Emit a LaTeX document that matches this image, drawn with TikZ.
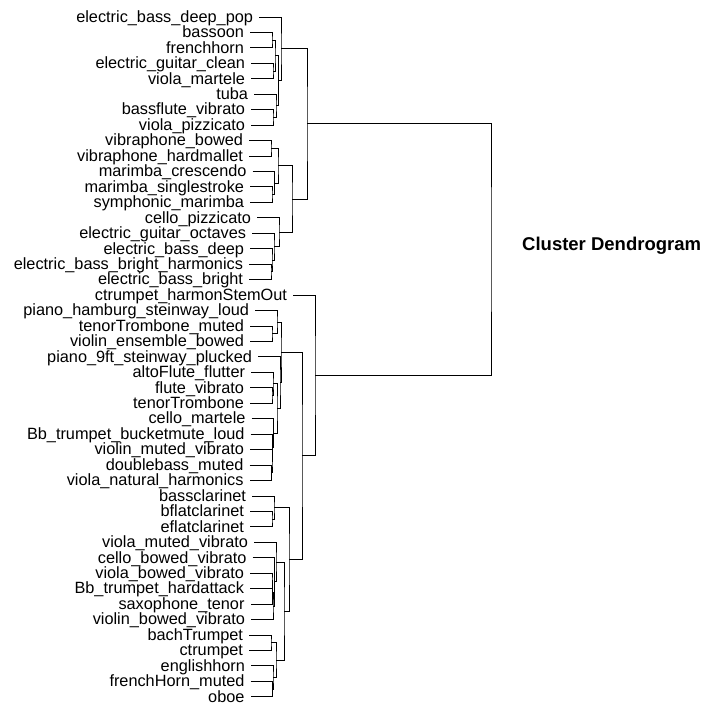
\documentclass[tikz,border=0pt]{standalone}
\usepackage{fontspec}
\setmainfont{Liberation Sans}
\begin{document}
\begin{tikzpicture}[x=1pt,y=-1pt]
	\tikzset{leaf/.style = {anchor=east,inner xsep=6pt,inner ysep=0pt,outer sep=0pt,
		text height=10.5pt,text depth=0pt,font=\fontsize{16.3}{16.3}\selectfont}}
	\tikzset{link/.style = {draw,line width=0.9pt}}
	\useasboundingbox (0,0) rectangle (701,703);
	% leaves
	\node[leaf] (l1) at (259,17) {electric\_bass\_deep\_pop};
	\node[leaf] (l2) at (250,32.45) {bassoon};
	\node[leaf] (l3) at (250,47.9) {frenchhorn};
	\node[leaf] (l4) at (251,63.35) {electric\_guitar\_clean};
	\node[leaf] (l5) at (251,78.8) {viola\_martele};
	\node[leaf] (l6) at (254,94.25) {tuba};
	\node[leaf] (l7) at (251,109.7) {bassflute\_vibrato};
	\node[leaf] (l8) at (251,125.15) {viola\_pizzicato};
	\node[leaf] (l9) at (249,140.6) {vibraphone\_bowed};
	\node[leaf] (l10) at (249,156.05) {vibraphone\_hardmallet};
	\node[leaf] (l11) at (252.5,171.5) {marimba\_crescendo};
	\node[leaf] (l12) at (250,186.95) {marimba\_singlestroke};
	\node[leaf] (l13) at (250,202.4) {symphonic\_marimba};
	\node[leaf] (l14) at (257,217.85) {cello\_pizzicato};
	\node[leaf] (l15) at (252,233.3) {electric\_guitar\_octaves};
	\node[leaf] (l16) at (250,248.75) {electric\_bass\_deep};
	\node[leaf] (l17) at (249,264.2) {electric\_bass\_bright\_harmonics};
	\node[leaf] (l18) at (249,279.65) {electric\_bass\_bright};
	\node[leaf] (l19) at (293,295.1) {ctrumpet\_harmonStemOut};
	\node[leaf] (l20) at (255,310.55) {piano\_hamburg\_steinway\_loud};
	\node[leaf] (l21) at (250,326) {tenorTrombone\_muted};
	\node[leaf] (l22) at (250,341.45) {violin\_ensemble\_bowed};
	\node[leaf] (l23) at (258,356.9) {piano\_9ft\_steinway\_plucked};
	\node[leaf] (l24) at (251,372.35) {altoFlute\_flutter};
	\node[leaf] (l25) at (250,387.8) {flute\_vibrato};
	\node[leaf] (l26) at (250,403.25) {tenorTrombone};
	\node[leaf] (l27) at (251.5,418.7) {cello\_martele};
	\node[leaf] (l28) at (250.5,434.15) {Bb\_trumpet\_bucketmute\_loud};
	\node[leaf] (l29) at (250,449.6) {violin\_muted\_vibrato};
	\node[leaf] (l30) at (249.5,465.05) {doublebass\_muted};
	\node[leaf] (l31) at (249.5,480.5) {viola\_natural\_harmonics};
	\node[leaf] (l32) at (252,495.95) {bassclarinet};
	\node[leaf] (l33) at (250,511.4) {bflatclarinet};
	\node[leaf] (l34) at (250,526.85) {eflatclarinet};
	\node[leaf] (l35) at (254,542.3) {viola\_muted\_vibrato};
	\node[leaf] (l36) at (252.5,557.75) {cello\_bowed\_vibrato};
	\node[leaf] (l37) at (250,573.2) {viola\_bowed\_vibrato};
	\node[leaf] (l38) at (250,588.65) {Bb\_trumpet\_hardattack};
	\node[leaf] (l39) at (250.5,604.1) {saxophone\_tenor};
	\node[leaf] (l40) at (251,619.55) {violin\_bowed\_vibrato};
	\node[leaf] (l41) at (249,635) {bachTrumpet};
	\node[leaf] (l42) at (249,650.45) {ctrumpet};
	\node[leaf] (l43) at (251,665.9) {englishhorn};
	\node[leaf] (l44) at (250.5,681.35) {frenchHorn\_muted};
	\node[leaf] (l45) at (250.5,696.8) {oboe};
	% merges (x = height)
	\coordinate (a) at (272,40.175);
	\coordinate (b) at (273,71.075);
	\coordinate (c) at (275,55.625);
	\coordinate (d) at (273,117.425);
	\coordinate (e) at (276,105.84);
	\coordinate (f) at (278.5,80.73);
	\coordinate (g) at (281,48.87);
	\coordinate (h1) at (271,148.325);
	\coordinate (h2) at (272,194.675);
	\coordinate (h3) at (274.5,183.09);
	\coordinate (h4) at (278,165.7);
	\coordinate (h5) at (271,271.925);
	\coordinate (h6) at (272,260.34);
	\coordinate (h7) at (274,246.82);
	\coordinate (h8) at (279,232.33);
	\coordinate (h9) at (292,199.02);
	\coordinate (top) at (307,123.95);
	\coordinate (p1) at (272,333.725);
	\coordinate (p2) at (277,322.14);
	\coordinate (r1) at (272,395.525);
	\coordinate (r2) at (273,383.94);
	\coordinate (r3) at (271.5,472.775);
	\coordinate (r4) at (272,461.19);
	\coordinate (r5) at (272.5,447.67);
	\coordinate (r6) at (273.5,433.19);
	\coordinate (r7) at (277,408.56);
	\coordinate (q) at (280,382.73);
	\coordinate (b3) at (281,352.43);
	\coordinate (s1) at (272,519.125);
	\coordinate (s2) at (274,507.54);
	\coordinate (t1) at (272,580.925);
	\coordinate (t2) at (272.5,592.51);
	\coordinate (t3) at (273,606.03);
	\coordinate (t4) at (274.5,581.89);
	\coordinate (t5) at (276,562.1);
	\coordinate (u1) at (271,642.725);
	\coordinate (u2) at (272.5,689.075);
	\coordinate (u3) at (273,677.49);
	\coordinate (u4) at (276,660.11);
	\coordinate (v) at (284,611.1);
	\coordinate (w) at (289,559.32);
	\coordinate (b2) at (302,455.88);
	\coordinate (bot) at (315,375.49);
	\coordinate (root) at (491,249.72);
	% links
	\path[link] (l2.east) -| (a) |- (l3.east);
	\path[link] (l4.east) -| (b) |- (l5.east);
	\path[link] (a) -| (c) |- (b);
	\path[link] (l7.east) -| (d) |- (l8.east);
	\path[link] (l6.east) -| (e) |- (d);
	\path[link] (c) -| (f) |- (e);
	\path[link] (l1.east) -| (g) |- (f);
	\path[link] (l9.east) -| (h1) |- (l10.east);
	\path[link] (l12.east) -| (h2) |- (l13.east);
	\path[link] (l11.east) -| (h3) |- (h2);
	\path[link] (h1) -| (h4) |- (h3);
	\path[link] (l17.east) -| (h5) |- (l18.east);
	\path[link] (l16.east) -| (h6) |- (h5);
	\path[link] (l15.east) -| (h7) |- (h6);
	\path[link] (l14.east) -| (h8) |- (h7);
	\path[link] (h4) -| (h9) |- (h8);
	\path[link] (g) -| (top) |- (h9);
	\path[link] (l21.east) -| (p1) |- (l22.east);
	\path[link] (l20.east) -| (p2) |- (p1);
	\path[link] (l25.east) -| (r1) |- (l26.east);
	\path[link] (l24.east) -| (r2) |- (r1);
	\path[link] (l30.east) -| (r3) |- (l31.east);
	\path[link] (l29.east) -| (r4) |- (r3);
	\path[link] (l28.east) -| (r5) |- (r4);
	\path[link] (l27.east) -| (r6) |- (r5);
	\path[link] (r2) -| (r7) |- (r6);
	\path[link] (l23.east) -| (q) |- (r7);
	\path[link] (p2) -| (b3) |- (q);
	\path[link] (l33.east) -| (s1) |- (l34.east);
	\path[link] (l32.east) -| (s2) |- (s1);
	\path[link] (l37.east) -| (t1) |- (l38.east);
	\path[link] (t1) -| (t2) |- (l39.east);
	\path[link] (t2) -| (t3) |- (l40.east);
	\path[link] (l36.east) -| (t4) |- (t3);
	\path[link] (l35.east) -| (t5) |- (t4);
	\path[link] (l41.east) -| (u1) |- (l42.east);
	\path[link] (l44.east) -| (u2) |- (l45.east);
	\path[link] (l43.east) -| (u3) |- (u2);
	\path[link] (u1) -| (u4) |- (u3);
	\path[link] (t5) -| (v) |- (u4);
	\path[link] (s2) -| (w) |- (v);
	\path[link] (b3) -| (b2) |- (w);
	\path[link] (l19.east) -| (bot) |- (b2);
	\path[link] (top) -| (root) |- (bot);
	% title
	\node[anchor=west,inner sep=0pt,text height=13.3pt,text depth=0pt,
		font=\fontsize{18.5}{18.5}\selectfont\bfseries] (title) at (522,244) {Cluster Dendrogram};
\end{tikzpicture}
\end{document}
